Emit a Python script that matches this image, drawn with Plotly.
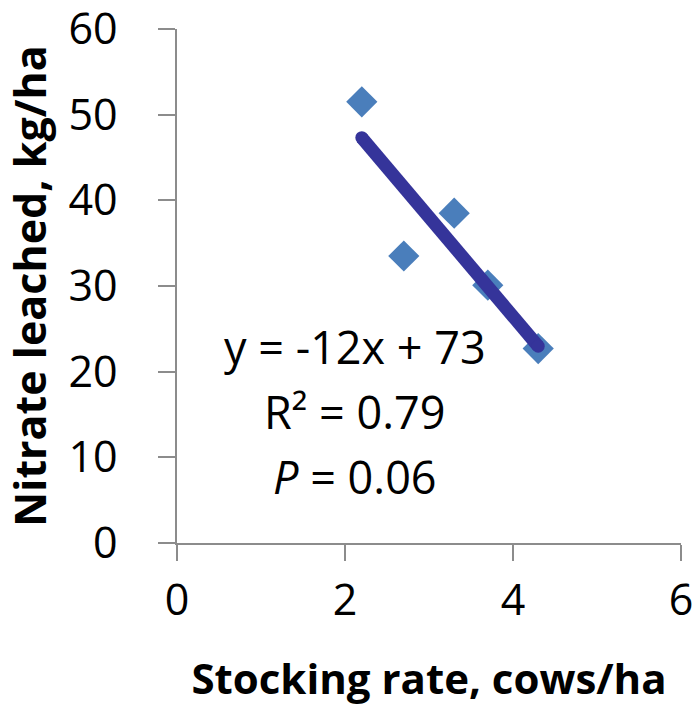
import numpy as np
import plotly.graph_objects as go

# Stocking rate (cows/ha) and nitrate leached (kg/ha)
stocking_rate = [2.2, 2.7, 3.3, 3.7, 4.3]
nitrate_leached = [51.5, 33.5, 38.5, 30.1, 22.7]

x_ticks = [0, 2, 4, 6]
y_ticks = [0, 10, 20, 30, 40, 50, 60]
p_value_text = "<i>P</i> = 0.06"

# Linear least-squares trend line
xs = np.array(stocking_rate)
ys = np.array(nitrate_leached)
slope, intercept = np.polyfit(xs, ys, 1)
r2 = np.corrcoef(xs, ys)[0, 1] ** 2
trend_x = [xs.min(), xs.max()]
trend_y = [slope * v + intercept for v in trend_x]

eq_text = f"y = {slope:.0f}x + {intercept:.0f}"
r2_text = f"R² = {r2:.2f}"

FONT = "'Open Sans', Carlito, Calibri, sans-serif"
AXIS_GREY = "#8c8c8c"

fig = go.Figure()
fig.add_trace(go.Scatter(
    x=stocking_rate, y=nitrate_leached, mode="markers",
    marker=dict(symbol="diamond", size=24, color="#4a7ebb", line=dict(width=0)),
    showlegend=False, hoverinfo="skip",
))
fig.add_trace(go.Scatter(
    x=trend_x, y=trend_y, mode="lines+markers",
    line=dict(color="#35349a", width=13),
    marker=dict(symbol="circle", size=13, color="#35349a", line=dict(width=0)),
    showlegend=False, hoverinfo="skip",
))

# Regression statistics, one line per annotation
for text, ypos in [(eq_text, 22.9), (r2_text, 15.3), (p_value_text, 7.8)]:
    fig.add_annotation(
        x=2.12, y=ypos, xref="x", yref="y", text=text, showarrow=False,
        font=dict(family=FONT, size=45, color="#000000"),
        xanchor="center", yanchor="middle",
    )

fig.update_xaxes(
    range=[0, 6], tickvals=x_ticks, showgrid=False, zeroline=False,
    showline=True, linecolor=AXIS_GREY, linewidth=1.5,
    ticks="outside", ticklen=16, tickwidth=1.5, tickcolor=AXIS_GREY,
    tickfont=dict(family=FONT, size=43, color="#000000"),
    ticklabelstandoff=3, automargin=False, ticklabeloverflow="allow",
    title=dict(text="<b>Stocking rate, cows/ha</b>",
               font=dict(family=FONT, size=42, color="#000000"), standoff=37),
)
fig.update_yaxes(
    range=[0, 60], tickvals=y_ticks, showgrid=False, zeroline=False,
    showline=True, linecolor=AXIS_GREY, linewidth=1.5,
    ticks="outside", ticklen=17, tickwidth=1.5, tickcolor=AXIS_GREY,
    tickfont=dict(family=FONT, size=43, color="#000000"),
    ticklabelstandoff=32, automargin=False, ticklabeloverflow="allow",
    title=dict(text="<b>Nitrate leached, kg/ha</b>",
               font=dict(family=FONT, size=43, color="#000000"), standoff=12),
)

fig.update_layout(
    width=695, height=708,
    margin=dict(l=177, r=14, t=29, b=165),
    plot_bgcolor="white", paper_bgcolor="white",
)

fig.write_html("out.html")
